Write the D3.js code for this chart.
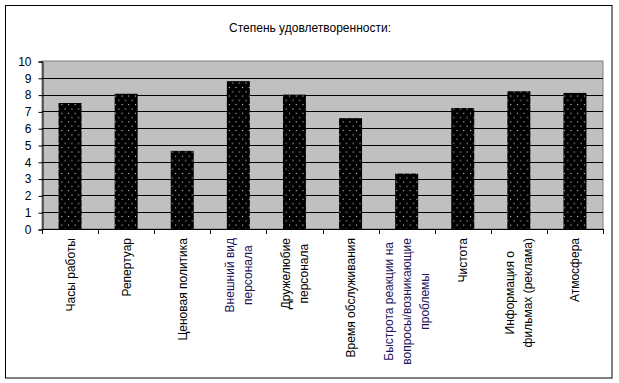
<!DOCTYPE html>
<html><head><meta charset="utf-8">
<script src="https://cdn.jsdelivr.net/npm/d3@7"></script>
<style>
html,body{margin:0;padding:0;background:#fff;}
svg{display:block;font-family:"Liberation Sans",Arial,sans-serif;}
</style></head>
<body>
<svg id="chart" width="619" height="383"></svg>
<script>
const title = "Степень удовлетворенности:";
const categories = [
  ["Часы работы"],
  ["Репертуар"],
  ["Ценовая политика"],
  ["Внешний вид", "персонала"],
  ["Дружелюбие", "персонала"],
  ["Время обслуживания"],
  ["Быстрота реакции на", "вопросы/возникающие", "проблемы"],
  ["Чистота"],
  ["Информация о", "фильмах (реклама)"],
  ["Атмосфера"]
];
const values = [7.5, 8.05, 4.65, 8.8, 8.0, 6.6, 3.3, 7.2, 8.2, 8.1];
const yTicks = [0,1,2,3,4,5,6,7,8,9,10];

const svg = d3.select("#chart");
const W = 619, H = 383;
const plot = {l: 42, r: 603, t: 61, b: 229};

// pattern
const defs = svg.append("defs");
const pat = defs.append("pattern").attr("id","dots").attr("patternUnits","userSpaceOnUse")
  .attr("width", 6.7).attr("height", 8.6);
pat.append("rect").attr("width",6.7).attr("height",8.6).attr("fill","#000");
pat.append("rect").attr("x",1).attr("y",1).attr("width",1).attr("height",1).attr("fill","#fff");
pat.append("rect").attr("x",4.35).attr("y",5.3).attr("width",1).attr("height",1).attr("fill","#fff");

// outer frame
svg.append("rect").attr("x",5.5).attr("y",5.5).attr("width",606.5).attr("height",372.5)
  .attr("fill","#fff").attr("stroke","#000").attr("stroke-width",1);

svg.append("text").attr("x",310).attr("y",32).attr("text-anchor","middle")
  .attr("font-size",12).attr("fill","#000").text(title);

const x = d3.scaleBand().domain(d3.range(categories.length)).range([plot.l, plot.r]).paddingInner(0).paddingOuter(0);
const y = d3.scaleLinear().domain([0,10]).range([plot.b, plot.t]);

svg.append("rect").attr("x",plot.l).attr("y",plot.t).attr("width",plot.r-plot.l).attr("height",plot.b-plot.t)
  .attr("fill","#c0c0c0").attr("stroke","#808080").attr("stroke-width",1);

// gridlines
svg.append("g").selectAll("line").data(yTicks.filter(t=>t>0 && t<10)).join("line")
  .attr("x1",plot.l).attr("x2",plot.r)
  .attr("y1",d=>Math.round(y(d))+0.5).attr("y2",d=>Math.round(y(d))+0.5)
  .attr("stroke","#000").attr("stroke-width",1);

// bars
const bw = x.bandwidth()*0.41;
svg.append("g").selectAll("rect").data(values).join("rect")
  .attr("x",(d,i)=>x(i)+x.bandwidth()/2-bw/2)
  .attr("width",bw)
  .attr("y",d=>y(d))
  .attr("height",d=>y(0)-y(d))
  .attr("fill","url(#dots)");

// y axis
const yAxis = d3.axisLeft(y).tickValues(yTicks).tickSize(4).tickPadding(7).tickFormat(d3.format("d"));
const gy = svg.append("g").attr("transform",`translate(${plot.l+0.5},0.5)`).call(yAxis);
gy.select(".domain").attr("stroke","#000");
gy.selectAll("line").attr("stroke","#000");
gy.selectAll("text").attr("font-size",12).attr("fill","#000").attr("font-family","Liberation Sans, Arial, sans-serif");

// x axis: ticks at boundaries
const gx = svg.append("g");
gx.append("line").attr("x1",plot.l).attr("x2",plot.r+0.5).attr("y1",plot.b+0.5).attr("y2",plot.b+0.5).attr("stroke","#000");
const bounds = d3.range(categories.length+1).map(i => i<categories.length ? x(i) : plot.r);
gx.selectAll("line.tk").data(bounds).join("line").attr("class","tk")
  .attr("x1",d=>Math.round(d)+0.5).attr("x2",d=>Math.round(d)+0.5)
  .attr("y1",plot.b).attr("y2",plot.b+5).attr("stroke","#000");

// labels
const navy = new Set([3,6]);
const lineGap = 18, topY = 238, fs = 12;
categories.forEach((lines,i)=>{
  const cx = x(i)+x.bandwidth()/2;
  const g = svg.append("g");
  const texts = lines.map((ln,j)=>{
    const lx = cx + (j-(lines.length-1)/2)*lineGap + 4.5;
    return g.append("text").attr("font-size",fs).attr("text-anchor","middle")
      .attr("fill", navy.has(i) ? "#1e1460" : "#000").attr("data-x",lx).text(ln);
  });
  const maxW = d3.max(texts, t=>t.node().getComputedTextLength());
  const cy = topY + maxW/2;
  texts.forEach(t=>{
    const lx = +t.attr("data-x");
    t.attr("transform",`translate(${lx},${cy}) rotate(-90)`).attr("x",0).attr("y",0);
  });
});
</script>
</body></html>
